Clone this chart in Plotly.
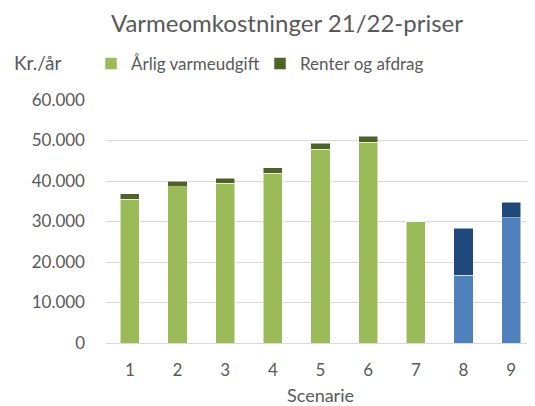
import plotly.graph_objects as go

scenarios = ["1", "2", "3", "4", "5", "6", "7", "8", "9"]
annual_heat_cost = [35500, 38600, 39500, 41900, 47900, 49600, 30000, 16700, 30900]
interest_repayment = [1400, 1400, 1200, 1400, 1400, 1400, 0, 11600, 3800]
y_ticks = [0, 10000, 20000, 30000, 40000, 50000, 60000]
y_tick_labels = ["0", "10.000", "20.000", "30.000", "40.000", "50.000", "60.000"]

light_colors = ["#9BBB59"] * 7 + ["#4F81BD"] * 2
dark_colors = ["#4F6228"] * 7 + ["#1F497D"] * 2

FONT = "Lato"
GREY = "#595959"

# page body has an 8px margin, so the figure is drawn 8px smaller
W, H = 527, 398
L, T, B = 98, 92, 63
PH = H - T - B
PW = W - L

fig = go.Figure()
fig.add_trace(go.Bar(
    x=scenarios, y=annual_heat_cost, name="Årlig varmeudgift",
    marker=dict(color=light_colors, line=dict(color="white", width=0.5)),
))
fig.add_trace(go.Bar(
    x=scenarios, y=interest_repayment, name="Renter og afdrag",
    marker=dict(color=dark_colors, line=dict(color="white", width=0.5)),
))

fig.update_layout(
    width=W, height=H,
    barmode="stack", bargap=0.6,
    plot_bgcolor="white", paper_bgcolor="white",
    margin=dict(l=L, r=0, t=T, b=B, autoexpand=False),
    font=dict(family=FONT, color=GREY),
    title=dict(text="Varmeomkostninger 21/22-priser", x=279 / W, xanchor="center",
               xref="container", y=1 - 16 / H, yanchor="middle", yref="container",
               font=dict(size=24, color=GREY, family=FONT)),
    legend=dict(orientation="h", xref="container", yref="container",
                x=83 / W, y=1 - 38 / H, xanchor="left", yanchor="top",
                font=dict(size=17, color=GREY, family=FONT),
                entrywidth=124, traceorder="normal", itemwidth=30),
    xaxis=dict(showgrid=False, showline=True, linecolor="#D9D9D9", linewidth=1,
               ticks="", tickfont=dict(size=17, color=GREY), ticklabelstandoff=12,
               automargin=False,
               title=dict(text="Scenarie", font=dict(size=18, color=GREY), standoff=13)),
    yaxis=dict(range=[0, 60000], tickvals=y_ticks, ticktext=y_tick_labels,
               showgrid=True, gridcolor="#D9D9D9", gridwidth=1, zeroline=False,
               automargin=False,
               ticks="", tickfont=dict(size=17, color=GREY), ticklabelstandoff=20),
    annotations=[dict(text="Kr./år", xref="paper", yref="paper", x=(4 - L) / PW, y=(H - B - 54) / PH,
                      xanchor="left", yanchor="middle", showarrow=False,
                      font=dict(size=19, color=GREY, family=FONT))],
)

fig.write_html("out.html")
